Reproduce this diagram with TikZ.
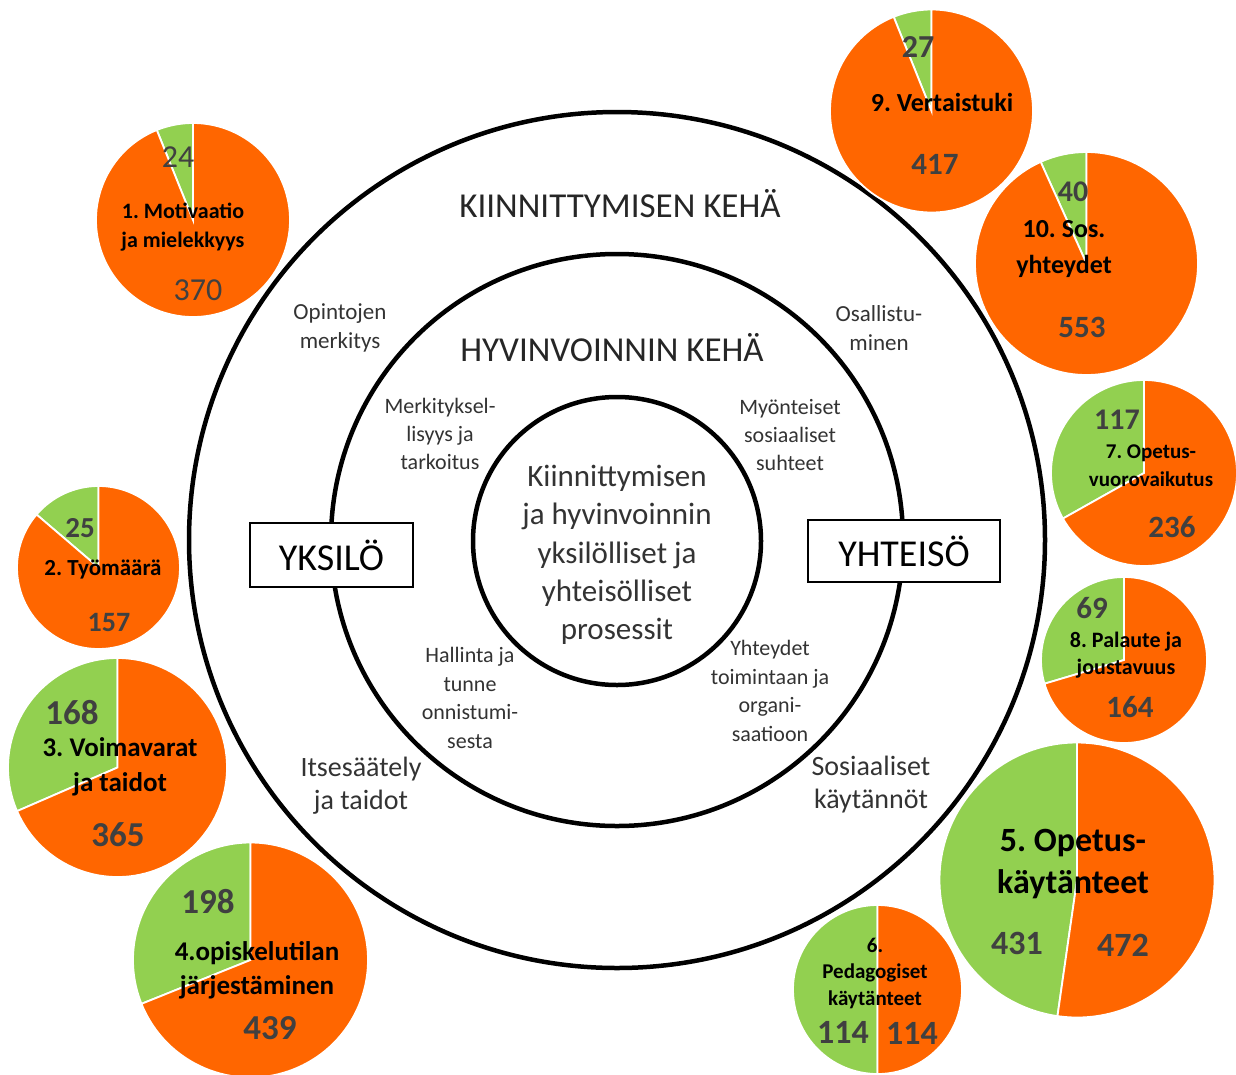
\documentclass[tikz,border=0pt]{standalone}
\usepackage{fontspec}
\setmainfont{Carlito}
\frenchspacing
\definecolor{porange}{HTML}{FF6600}
\definecolor{pgreen}{HTML}{92D050}
\definecolor{numgray}{HTML}{404040}
\definecolor{txtgray}{HTML}{333333}
\newcommand\fsz[2]{\fontsize{#1}{#2}\selectfont}
\newcommand\piechart[5]{%
  \pgfmathsetmacro\piega{360*(#4/(#4+#5))}%
  \filldraw[pieedge,fill=pgreen] (#1,#2) -- ++(-90:#3) arc[start angle=-90,end angle={-90-\piega},radius=#3] -- cycle;
  \filldraw[pieedge,fill=porange] (#1,#2) -- ++({-90-\piega}:#3) arc[start angle={-90-\piega},end angle=-450,radius=#3] -- cycle;
}
\begin{document}
\begin{tikzpicture}[x=1pt,y=-1pt,
  ring/.style={draw=black,line width=4.5pt},
  pieedge/.style={draw=white,line width=1.8pt},
  ringtxt/.style={text=txtgray,align=center,inner sep=0pt},
  pielbl/.style={text=black,align=center,inner sep=0pt,font=\bfseries},
  pienum/.style={text=numgray,inner sep=0pt,font=\bfseries},
  boxlbl/.style={draw=black,line width=1.8pt,fill=white,inner sep=0pt,text=black}]
\useasboundingbox (0,0) rectangle (1236,1074);
\fill[white] (0,0) rectangle (1236,1074);

% rings
\draw[ring] (617,540) circle[radius=428];
\draw[ring] (617,540) circle[radius=286];
\draw[ring] (617,541) circle[radius=144];

% ring texts
\node[ringtxt,text=black!85,font=\fsz{35}{40}] (kk) at (620,204) {KIINNITTYMISEN KEHÄ};
\node[ringtxt,text=black!85,font=\fsz{35}{40}] (hk) at (612,348) {HYVINVOINNIN KEHÄ};
\node[ringtxt,font=\fsz{31}{38.3}] (core) at (617,555) {Kiinnittymisen\\ja hyvinvoinnin\\yksilölliset ja\\yhteisölliset\\prosessit};
\node[ringtxt,font=\fsz{23}{29}] (opm) at (340,328) {Opintojen\\merkitys};
\node[ringtxt,font=\fsz{23}{29}] (osm) at (879,328) {Osallistu-\\minen};
\node[ringtxt,font=\fsz{22}{28}] (mer) at (440,434) {Merkityksel-\\lisyys ja\\tarkoitus};
\node[ringtxt,font=\fsz{22}{28}] (myo) at (790,435) {Myönteiset\\sosiaaliset\\suhteet};
\node[ringtxt,font=\fsz{22}{28.5}] (hal) at (470,698) {Hallinta ja\\tunne\\onnistumi-\\sesta};
\node[ringtxt,font=\fsz{22}{28.5}] (yht) at (770,691) {Yhteydet\\toimintaan ja\\organi-\\saatioon};
\node[ringtxt,font=\fsz{28}{33}] (its) at (361,786) {Itsesäätely\\ja taidot};
\node[ringtxt,font=\fsz{28}{33}] (sos) at (871,785) {Sosiaaliset\\käytännöt};

% boxes
\node[boxlbl,minimum width=163,minimum height=64,font=\fsz{38}{42}] (yksilo) at (331.5,555) {YKSILÖ};
\node[boxlbl,minimum width=192,minimum height=62,font=\fsz{38}{42}] (yhteiso) at (904,551) {YHTEISÖ};

% pies
\piechart{193}{220}{97}{24}{370}
\piechart{931.5}{111}{101.5}{27}{417}
\piechart{1086.5}{263.5}{111.5}{40}{553}
\piechart{1144}{473}{93}{117}{236}
\piechart{1124}{660}{83}{69}{164}
\piechart{1077}{880}{137.5}{431}{472}
\piechart{877.5}{989.5}{84.5}{114}{114}
\piechart{98.5}{567.5}{81.5}{25}{157}
\piechart{117.5}{767.5}{109.5}{168}{365}
\piechart{250.5}{960}{117.5}{198}{439}

% pie 1
\node[pienum,font=\mdseries\fsz{32}{36}] (n1a) at (178,157) {24};
\node[pielbl,font=\bfseries\fsz{22}{29}] (l1) at (183,227) {1. Motivaatio\\ja mielekkyys};
\node[pienum,font=\mdseries\fsz{32}{36}] (n1b) at (198,290) {370};
% pie 9
\node[pienum,font=\bfseries\fsz{32}{36}] (n9a) at (918,47) {27};
\node[pielbl,font=\bfseries\fsz{26}{30}] (l9) at (942,102) {9. Vertaistuki};
\node[pienum,font=\bfseries\fsz{31}{36}] (n9b) at (935,164) {417};
% pie 10
\node[pienum,font=\bfseries\fsz{30}{36}] (n10a) at (1073,192) {40};
\node[pielbl,font=\bfseries\fsz{26}{36}] (l10) at (1064,249) {10. Sos.\\yhteydet};
\node[pienum,font=\bfseries\fsz{31}{36}] (n10b) at (1082,327) {553};
% pie 7
\node[pienum,font=\bfseries\fsz{30}{36}] (n7a) at (1117,420) {117};
\node[pielbl,font=\bfseries\fsz{21}{28}] (l7) at (1151,466) {7. Opetus-\\vuorovaikutus};
\node[pienum,font=\bfseries\fsz{31}{36}] (n7b) at (1172,527) {236};
% pie 8
\node[pienum,font=\bfseries\fsz{31}{36}] (n8a) at (1092,608) {69};
\node[pielbl,font=\bfseries\fsz{22}{27}] (l8) at (1126,655) {8. Palaute ja\\joustavuus};
\node[pienum,font=\bfseries\fsz{31}{36}] (n8b) at (1130,707) {164};
% pie 5
\node[pielbl,font=\bfseries\fsz{34}{42}] (l5) at (1073,864) {5. Opetus-\\käytänteet};
\node[pienum,font=\bfseries\fsz{34}{38}] (n5a) at (1017,943) {431};
\node[pienum,font=\bfseries\fsz{34}{38}] (n5b) at (1123,945) {472};
% pie 6
\node[pielbl,font=\bfseries\fsz{21}{26.5}] (l6) at (875,973) {6.\\Pedagogiset\\käytänteet};
\node[pienum,font=\bfseries\fsz{34}{38}] (n6a) at (843,1032) {114};
\node[pienum,font=\bfseries\fsz{34}{38}] (n6b) at (912,1033) {114};
% pie 2
\node[pienum,font=\bfseries\fsz{29}{34}] (n2a) at (80,528) {25};
\node[pielbl,font=\bfseries\fsz{23}{28}] (l2) at (103,570) {2. Työmäärä};
\node[pienum,font=\bfseries\fsz{28}{34}] (n2b) at (109,622) {157};
% pie 3
\node[pienum,font=\bfseries\fsz{35}{40}] (n3a) at (72,713) {168};
\node[pielbl,font=\bfseries\fsz{27}{35}] (l3) at (120,767) {3. Voimavarat\\ja taidot};
\node[pienum,font=\bfseries\fsz{35}{40}] (n3b) at (118,835) {365};
% pie 4
\node[pienum,font=\bfseries\fsz{35}{40}] (n4a) at (208,902) {198};
\node[pielbl,font=\bfseries\fsz{27}{34}] (l4) at (257,970) {4.opiskelutilan\\järjestäminen};
\node[pienum,font=\bfseries\fsz{35}{40}] (n4b) at (270,1028) {439};
\end{tikzpicture}
\end{document}
